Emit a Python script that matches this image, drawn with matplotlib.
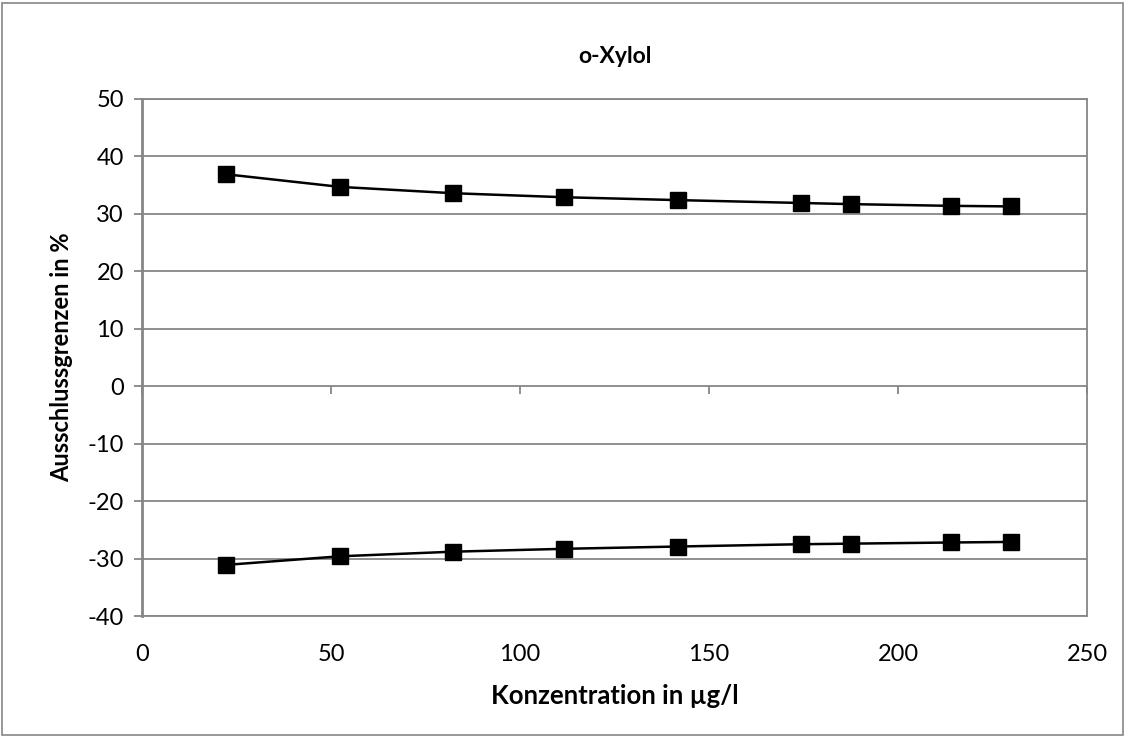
import matplotlib
matplotlib.use("Agg")
from matplotlib import pyplot as plt
from matplotlib.patches import Rectangle

plt.rcParams["font.family"] = ["Lato", "DejaVu Sans"]
plt.rcParams["axes.unicode_minus"] = False

# Konzentration in µg/l
konzentration = [22.2, 52.4, 82.3, 111.6, 141.8, 174.3, 187.6, 214.0, 230.0]
# obere / untere Ausschlussgrenzen in %
obere_grenze = [36.9, 34.7, 33.6, 32.9, 32.4, 31.9, 31.7, 31.4, 31.3]
untere_grenze = [-31.1, -29.6, -28.8, -28.3, -27.9, -27.5, -27.4, -27.2, -27.1]

x_ticks = [0, 50, 100, 150, 200, 250]
y_ticks = [-40, -30, -20, -10, 0, 10, 20, 30, 40, 50]

grey = "#868686"

fig = plt.figure(figsize=(11.25, 7.36), dpi=100)
fig.patches.append(
    Rectangle((0.002, 0.002), 0.996, 0.994, transform=fig.transFigure,
              fill=False, edgecolor=grey, linewidth=1.2)
)
ax = fig.add_axes([0.1262, 0.163, 0.8400, 0.7025])

for werte in (obere_grenze, untere_grenze):
    ax.plot(konzentration, werte, color="black", linewidth=1.8,
            marker="s", markersize=11, zorder=3)

ax.set_xlim(0, 250)
ax.set_ylim(-40, 50)
ax.set_xticks(x_ticks)
ax.set_yticks(y_ticks)
ax.grid(axis="y", color=grey, linewidth=1.3)
ax.set_axisbelow(True)

for side in ("top", "right", "bottom"):
    ax.spines[side].set_color(grey)
    ax.spines[side].set_linewidth(1.3)
ax.spines["left"].set_color(grey)
ax.spines["left"].set_linewidth(2.0)

ax.tick_params(axis="y", direction="out", length=6, width=1.3, color=grey,
               labelsize=17, pad=7)
ax.tick_params(axis="x", length=0, labelsize=17, pad=20)

# tick marks of the category axis sit on the zero line
sec = ax.secondary_xaxis(40 / 90)
sec.set_xticks(x_ticks)
sec.tick_params(axis="x", direction="out", length=6, width=1.3, color=grey,
                labelbottom=False, labeltop=False)
sec.spines["bottom"].set_visible(False)

ax.set_title("o-Xylol", fontsize=16.5, fontweight="bold", pad=26)
ax.set_xlabel("Konzentration in µg/l", fontsize=18.5, fontweight="bold",
              labelpad=14)
ax.set_ylabel("Ausschlussgrenzen in %", fontsize=17, fontweight="bold",
              labelpad=10)

fig.savefig("out.png", dpi=100)
